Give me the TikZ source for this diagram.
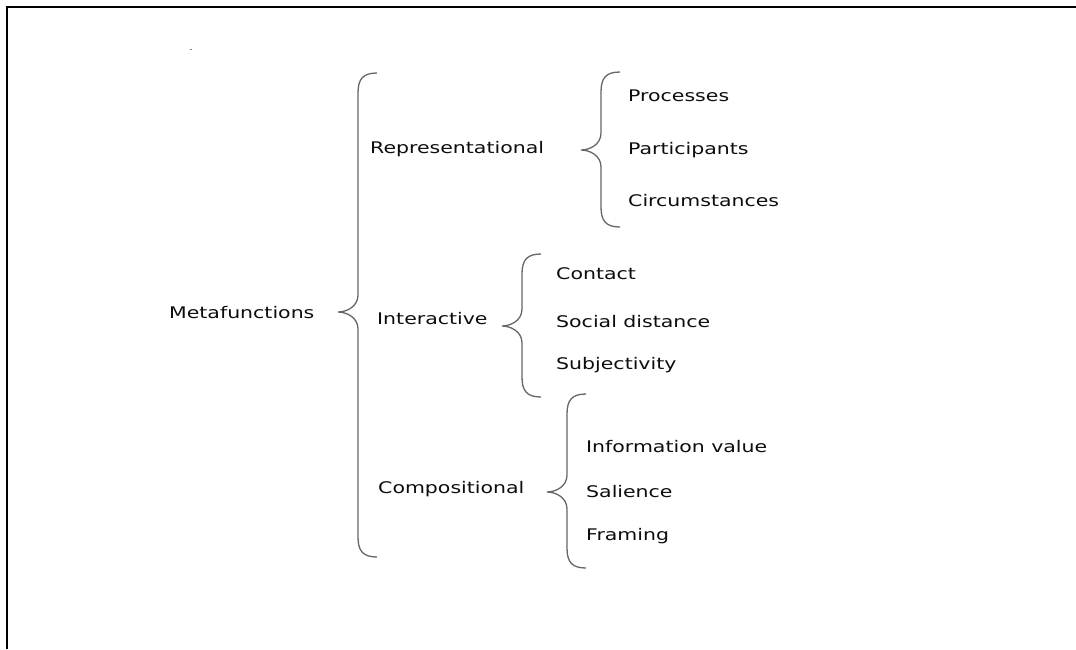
\documentclass[tikz,border=0pt]{standalone}
\usepackage{fontspec}
\setmainfont{DejaVu Sans}
\usepackage{graphicx}

% text is set a bit wider than the font
\newcommand{\wide}[1]{\scalebox{1.28}[1]{#1}}
% curly brace: tip x, top y, cusp y, bottom y
\newcommand{\curly}[4]{%
  \draw[brace] (#1,#2) .. controls (#1-14,#2) and (#1-19,#2+6) .. (#1-19,#2+20)
    -- (#1-19,#3-17) .. controls (#1-19,#3-5) and (#1-31,#3) .. (#1-39,#3)
    .. controls (#1-31,#3) and (#1-19,#3+5) .. (#1-19,#3+17)
    -- (#1-19,#4-20) .. controls (#1-19,#4-6) and (#1-14,#4) .. (#1,#4);}

\begin{document}
\begin{tikzpicture}[
    x=1pt, y=-1pt,
    lbl/.style={
        anchor=base west,
        inner sep=0pt,
        text=black!95,
        font=\fontsize{16}{19}\selectfont
    },
    brace/.style={draw=black!60, line width=1.3pt},
    frame/.style={draw=black, line width=2pt}
]
    \useasboundingbox (0,0) rectangle (1076,649);
    \draw[frame] (7.3,649) -- (7.3,7.3) -- (1076,7.3);
    \draw[black!50, line width=0.7pt] (190,49.8) -- (192.3,49.8);

    % root
    \node[lbl] (meta) at (169,318) {\wide{Metafunctions}};
    \curly{377}{73}{312}{557}

    % first level
    \node[lbl] (repr) at (370,153) {\wide{Representational}};
    \node[lbl] (inter) at (377,324) {\wide{Interactive}};
    \node[lbl] (comp) at (378,493) {\wide{Compositional}};

    % representational
    \curly{620}{72}{150}{227}
    \node[lbl] (proc) at (628,101) {\wide{Processes}};
    \node[lbl] (part) at (628,154.5) {\wide{Participants}};
    \node[lbl] (circ) at (628,206.5) {\wide{Circumstances}};

    % interactive
    \curly{541}{254}{326}{397}
    \node[lbl] (contact) at (556,279) {\wide{Contact}};
    \node[lbl] (social) at (556,327) {\wide{Social distance}};
    \node[lbl] (subj) at (556,369) {\wide{Subjectivity}};

    % compositional
    \curly{586}{394}{492}{568}
    \node[lbl] (info) at (586,452) {\wide{Information value}};
    \node[lbl] (sal) at (586,497) {\wide{Salience}};
    \node[lbl] (fram) at (586,540.5) {\wide{Framing}};
\end{tikzpicture}
\end{document}
